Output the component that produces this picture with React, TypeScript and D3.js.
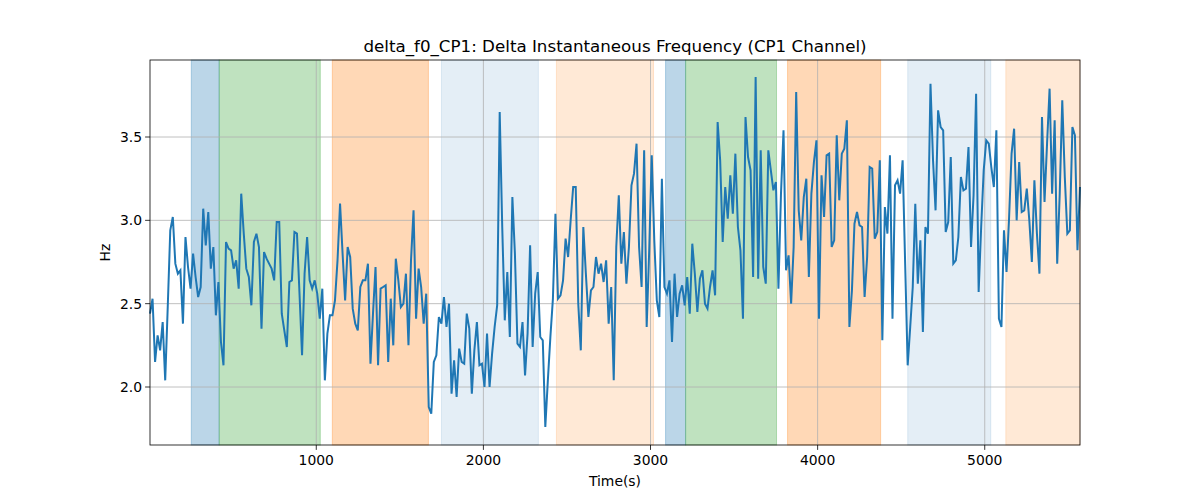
import * as d3 from 'd3'

const values: number[] = [
  2.44, 2.53, 2.15, 2.31, 2.22, 2.39, 2.04, 2.48, 2.94, 3.02, 2.74, 2.68, 2.70, 2.38, 2.90, 2.72, 2.59, 2.80, 2.66, 2.54,
  2.60, 3.07, 2.85, 3.05, 2.71, 2.84, 2.43, 2.63, 2.27, 2.13, 2.87, 2.83, 2.82, 2.71, 2.76, 2.59, 3.16, 2.92, 2.71, 2.66,
  2.49, 2.87, 2.92, 2.84, 2.35, 2.81, 2.77, 2.74, 2.71, 2.64, 2.99, 2.99, 2.44, 2.34, 2.24, 2.63, 2.64, 2.93, 2.92, 2.56,
  2.19, 2.68, 2.90,
  2.64, 2.59, 2.64, 2.56, 2.41, 2.59, 2.04, 2.32, 2.43, 2.43, 2.52, 2.76, 3.10, 2.80, 2.52, 2.84, 2.78, 2.47, 2.38, 2.34,
  2.60, 2.64, 2.64, 2.74, 2.14, 2.44, 2.72, 2.13, 2.59, 2.60, 2.61, 2.15, 2.53, 2.25, 2.77, 2.64, 2.48, 2.50, 2.68, 2.25,
  2.76, 3.06, 2.41, 2.71, 2.60, 2.38, 2.56, 1.88, 1.84, 2.15, 2.19, 2.42, 2.38, 2.54, 2.36, 2.50, 1.96, 2.16, 1.94, 2.23,
  2.15,
  2.14, 2.44, 2.35, 1.96, 2.22, 2.39, 2.13, 2.14, 2.00, 2.32, 2.00, 2.20, 2.36, 2.49, 3.65, 2.96, 2.40, 2.69, 2.30, 3.14,
  2.80, 2.26, 2.24, 2.39, 2.07, 2.32, 2.85, 2.24, 2.56, 2.69, 2.30, 2.28, 1.76, 2.04, 2.30, 2.53, 3.04, 2.53, 2.55, 2.64,
  2.89, 2.78, 3.00, 3.20, 3.20, 2.50, 2.22, 2.96, 2.68, 2.42, 2.58, 2.60, 2.78, 2.68, 2.74, 2.63, 2.76, 2.38, 2.60, 2.04,
  2.84, 3.15,
  2.74, 2.93, 2.62, 2.84, 3.21, 3.28, 3.46, 2.84, 2.60, 3.42, 2.36, 2.82, 3.39, 2.88, 2.52, 2.42, 3.25, 2.60, 2.56, 2.64,
  2.27, 2.68, 2.42, 2.56, 2.61, 2.49, 2.66, 2.44, 2.86, 2.68, 2.45, 2.65, 2.70, 2.50, 2.47, 2.60, 2.70, 2.55, 3.59, 3.36,
  2.87, 3.20, 3.01, 3.27, 3.04, 3.40, 2.96, 2.82, 2.41, 3.62, 3.38, 3.30, 2.66, 3.86, 2.65, 3.42, 2.72, 2.62, 3.42, 3.30,
  3.18,
  3.23, 2.59, 3.16, 3.54, 2.70, 2.79, 2.50, 2.84, 3.77, 3.06, 2.88, 3.14, 3.25, 2.66, 3.16, 3.35, 3.48, 2.41, 3.27, 3.02,
  3.39, 3.40, 2.84, 2.88, 3.51, 3.12, 3.40, 3.43, 3.60, 2.36, 2.58, 2.98, 3.05, 2.97, 2.96, 2.54, 2.78, 3.32, 3.31, 2.89,
  2.93, 3.36, 2.28, 3.08, 2.92, 3.39, 2.41, 3.21, 3.24, 3.16, 3.36, 2.74, 2.13, 2.36, 2.60, 3.10, 2.62, 2.88, 2.33, 2.96,
  2.92,
  3.82, 3.36, 3.06, 3.66, 3.56, 3.54, 2.93, 2.99, 3.38, 2.74, 2.76, 2.90, 3.26, 3.18, 3.19, 3.44, 2.84, 3.15, 3.76, 2.57,
  2.96, 3.30, 3.48, 3.46, 3.32, 3.20, 3.54, 2.41, 2.36, 2.94, 2.69, 3.01, 3.40, 3.55, 3.00, 3.35, 3.05, 3.06, 3.19, 3.00,
  2.75, 3.24, 2.92, 2.68, 3.62, 3.11, 3.46, 3.79, 3.16, 3.60, 2.74, 3.16, 3.72, 3.26, 2.92, 2.94, 3.56, 3.51, 2.82, 3.20,
]
const tStart = 5
const tEnd = 5570

// shaded intervals
const spanStarts = [252, 419, 1096, 1749, 2437, 3090, 3210, 3820, 4539, 5126]
const spanEnds = [419, 1024, 1671, 2329, 3018, 3210, 3754, 4377, 5036, 5570]
const spanColors = ['#1f77b4', '#2ca02c', '#ff7f0e', '#1f77b4', '#ff7f0e', '#1f77b4', '#2ca02c', '#ff7f0e', '#1f77b4', '#ff7f0e']
const spanAlphas = [0.3, 0.3, 0.3, 0.12, 0.17, 0.3, 0.3, 0.3, 0.12, 0.17]

const xTicks = [1000, 2000, 3000, 4000, 5000]
const yTicks = [2.0, 2.5, 3.0, 3.5]

export default function App() {
  const W = 1200, H = 500
  const left = 150, right = 1080, top = 60, bottom = 445
  const x = d3.scaleLinear().domain([tStart, tEnd]).range([left, right])
  const y = d3.scaleLinear().domain([1.652, 3.962]).range([bottom, top])
  const step = (tEnd - tStart) / (values.length - 1)
  const pts = values.map((v, i) => [tStart + i * step, v] as [number, number])
  const line = d3.line<[number, number]>().x(d => x(d[0])).y(d => y(d[1]))
  const font = 'DejaVu Sans, sans-serif'
  const fs = 13.9

  return (
    <svg width={W} height={H} style={{ display: 'block', margin: -8 }} fontFamily={font}>
      <rect width={W} height={H} fill="white" />
      {spanStarts.map((s, i) => (
        <rect key={i} x={x(s)} y={top} width={x(spanEnds[i]) - x(s)} height={bottom - top}
          fill={spanColors[i]} fillOpacity={spanAlphas[i]} stroke={spanColors[i]} strokeOpacity={spanAlphas[i]} />
      ))}
      {xTicks.map(t => (
        <g key={t}>
          <line x1={x(t)} x2={x(t)} y1={top} y2={bottom} stroke="#b0b0b0" strokeWidth={0.8} />
          <line x1={x(t)} x2={x(t)} y1={bottom} y2={bottom + 4.9} stroke="black" strokeWidth={0.8} />
          <text x={x(t)} y={bottom + 20} fontSize={fs} textAnchor="middle">{t}</text>
        </g>
      ))}
      {yTicks.map(t => (
        <g key={t}>
          <line x1={left} x2={right} y1={y(t)} y2={y(t)} stroke="#b0b0b0" strokeWidth={0.8} />
          <line x1={left - 4.9} x2={left} y1={y(t)} y2={y(t)} stroke="black" strokeWidth={0.8} />
          <text x={left - 8} y={y(t) + 5} fontSize={fs} textAnchor="end">{t.toFixed(1)}</text>
        </g>
      ))}
      <path d={line(pts) ?? ''} fill="none" stroke="#1f77b4" strokeWidth={2} />
      <rect x={left} y={top} width={right - left} height={bottom - top} fill="none" stroke="black" strokeWidth={0.8} />
      <text x={(left + right) / 2} y={52} fontSize={16.7} textAnchor="middle">delta_f0_CP1: Delta Instantaneous Frequency (CP1 Channel)</text>
      <text x={(left + right) / 2} y={486} fontSize={fs} textAnchor="middle">Time(s)</text>
      <text transform={`translate(110,${(top + bottom) / 2}) rotate(-90)`} fontSize={fs} textAnchor="middle">Hz</text>
    </svg>
  )
}
